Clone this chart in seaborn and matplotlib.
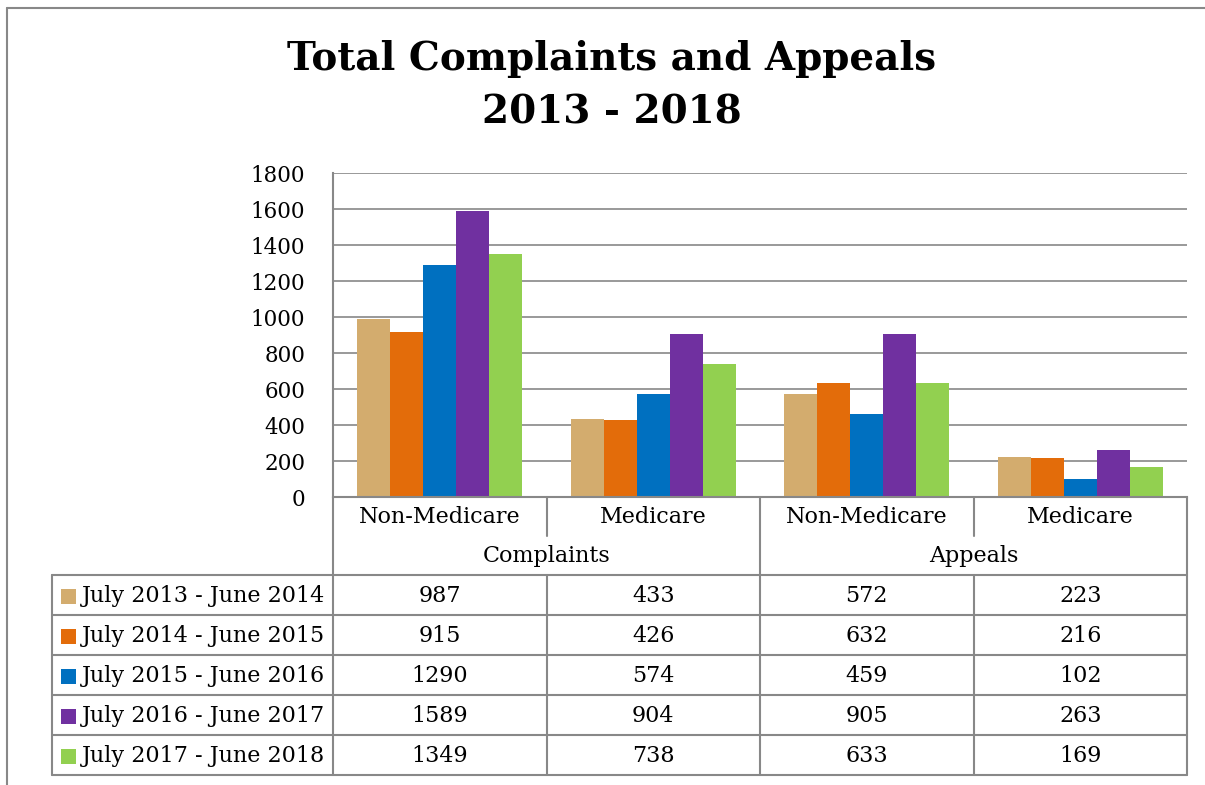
import numpy as np
import pandas as pd
import matplotlib
matplotlib.use("Agg")
import matplotlib.pyplot as plt
import matplotlib.transforms as mtrans
from matplotlib.lines import Line2D
from matplotlib.patches import Rectangle
import seaborn as sns

# ---- data ----
categories = ["Non-Medicare", "Medicare", "Non-Medicare", "Medicare"]
groups = ["Complaints", "Appeals"]
series = ["July 2013 - June 2014", "July 2014 - June 2015", "July 2015 - June 2016",
          "July 2016 - June 2017", "July 2017 - June 2018"]
v_2013_14 = [987, 433, 572, 223]
v_2014_15 = [915, 426, 632, 216]
v_2015_16 = [1290, 574, 459, 102]
v_2016_17 = [1589, 904, 905, 263]
v_2017_18 = [1349, 738, 633, 169]
colors = ["#D3AC6E", "#E36C0A", "#0070C0", "#7030A0", "#92D050"]
yticks = [0, 200, 400, 600, 800, 1000, 1200, 1400, 1600, 1800]
title_lines = ["Total Complaints and Appeals", "2013 - 2018"]

values = [v_2013_14, v_2014_15, v_2015_16, v_2016_17, v_2017_18]

W, H = 1205, 785
sns.set_theme(style="white")
plt.rcParams['font.family'] = ['DejaVu Serif']
plt.rcParams['text.color'] = 'black'
plt.rcParams['ytick.color'] = 'black'
GRID = "#888888"
FS = 16

fig = plt.figure(figsize=(W / 100, H / 100), dpi=100)
fig.patch.set_facecolor("white")


def fx(px):
    return px / W


def fy(py):
    return 1 - py / H


ax = fig.add_axes([fx(333), fy(497), fx(1187) - fx(333), fy(173) - fy(497)])

rows = []
for s, vals in zip(series, values):
    for i, v in enumerate(vals):
        rows.append({"slot": i, "series": s, "value": v})
df = pd.DataFrame(rows)

sns.barplot(data=df, x="slot", y="value", hue="series", hue_order=series,
            order=list(range(len(categories))), palette=colors, width=0.775,
            linewidth=0, saturation=1, ax=ax, legend=False, errorbar=None)

ax.set_xlim(-0.5, len(categories) - 0.5)
ax.set_ylim(0, 1800)
ax.set_yticks(yticks)
ax.set_yticklabels([str(t) for t in yticks], fontsize=15.5, color="black")
ax.set_xticks([])
ax.set_xlabel("")
ax.set_ylabel("")
ax.tick_params(axis="y", length=0, pad=20)
ax.yaxis.grid(True, color=GRID, lw=1.2)
ax.set_axisbelow(True)
for side in ["top", "right"]:
    ax.spines[side].set_visible(False)
for side in ["left", "bottom"]:
    ax.spines[side].set_color(GRID)
    ax.spines[side].set_linewidth(1.5)

# ---- title ----
for line, yc in zip(title_lines, [59, 113]):
    fig.text(fx(612), fy(yc), line, ha="center", va="center", fontsize=28,
             fontweight="bold", color="black")

# ---- outer frame ----
fig.add_artist(Line2D([fx(7), fx(7)], [fy(785), fy(8)], color=GRID, lw=1.5))
fig.add_artist(Line2D([fx(7), fx(1205)], [fy(8), fy(8)], color=GRID, lw=1.5))

# ---- data table ----
tr = mtrans.blended_transform_factory(ax.transData, fig.transFigure)
ncat = len(categories)
row_top = [575 + 40 * k for k in range(len(series) + 1)]
table_bottom = row_top[-1]


def vline(x, y0, y1):
    fig.add_artist(Line2D([x, x], [fy(y0), fy(y1)], transform=tr, color=GRID, lw=1.5))


vline(-0.5, 497, table_bottom)
vline(ncat - 0.5, 497, table_bottom)
for i in range(1, ncat):
    if i == ncat // 2:
        vline(i - 0.5, 497, table_bottom)
    else:
        vline(i - 0.5, 497, 536)
        vline(i - 0.5, 575, table_bottom)

for y in row_top:
    fig.add_artist(Line2D([fx(52), fx(1187)], [fy(y), fy(y)], color=GRID, lw=1.5))
fig.add_artist(Line2D([fx(52), fx(52)], [fy(575), fy(table_bottom)], color=GRID, lw=1.5))

for i, c in enumerate(categories):
    fig.text(i, fy(517), c, transform=tr, ha="center", va="center", fontsize=FS)
for g, gname in enumerate(groups):
    xc = g * 2 + 0.5
    fig.text(xc, fy(556), gname, transform=tr, ha="center", va="center", fontsize=FS)

for k, (s, vals, col) in enumerate(zip(series, values, colors)):
    yc = row_top[k] + 21
    fig.add_artist(Rectangle((fx(61), fy(yc + 7.5)), fx(15), 15 / H,
                             transform=fig.transFigure, facecolor=col, edgecolor="none"))
    fig.text(fx(82), fy(yc), s, ha="left", va="center", fontsize=FS)
    for i, v in enumerate(vals):
        fig.text(i, fy(yc), str(v), transform=tr, ha="center", va="center", fontsize=FS)

fig.savefig("out.png", dpi=100, facecolor="white")
